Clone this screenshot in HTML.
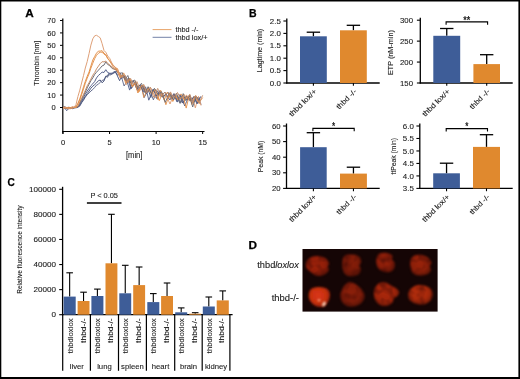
<!DOCTYPE html>
<html><head><meta charset="utf-8"><style>
html,body{margin:0;padding:0;background:#fff;}
svg{display:block;will-change:transform;}
text{font-family:"Liberation Sans",sans-serif;}
</style></head><body>
<svg width="520" height="379" viewBox="0 0 520 379">
<rect x="0" y="0" width="520" height="379" fill="#fff"/>
<text x="25.30" y="16.90" font-size="11" text-anchor="start" fill="#000" font-weight="bold" textLength="8.5" lengthAdjust="spacingAndGlyphs" stroke="#000" stroke-width="0.25">A</text>
<line x1="62.80" y1="18.50" x2="62.80" y2="133.70" stroke="#000" stroke-width="1.2"/>
<line x1="62.20" y1="131.50" x2="204.50" y2="131.50" stroke="#000" stroke-width="1.2"/>
<line x1="60.00" y1="107.50" x2="62.80" y2="107.50" stroke="#000" stroke-width="1.0"/>
<text x="55.70" y="110.10" font-size="7.4" text-anchor="end" fill="#1a1a1a" textLength="4.2" lengthAdjust="spacingAndGlyphs" stroke="#1a1a1a" stroke-width="0.1">0</text>
<line x1="60.00" y1="95.07" x2="62.80" y2="95.07" stroke="#000" stroke-width="1.0"/>
<text x="55.70" y="97.67" font-size="7.4" text-anchor="end" fill="#1a1a1a" textLength="8.4" lengthAdjust="spacingAndGlyphs" stroke="#1a1a1a" stroke-width="0.1">10</text>
<line x1="60.00" y1="82.64" x2="62.80" y2="82.64" stroke="#000" stroke-width="1.0"/>
<text x="55.70" y="85.24" font-size="7.4" text-anchor="end" fill="#1a1a1a" textLength="8.4" lengthAdjust="spacingAndGlyphs" stroke="#1a1a1a" stroke-width="0.1">20</text>
<line x1="60.00" y1="70.21" x2="62.80" y2="70.21" stroke="#000" stroke-width="1.0"/>
<text x="55.70" y="72.81" font-size="7.4" text-anchor="end" fill="#1a1a1a" textLength="8.4" lengthAdjust="spacingAndGlyphs" stroke="#1a1a1a" stroke-width="0.1">30</text>
<line x1="60.00" y1="57.78" x2="62.80" y2="57.78" stroke="#000" stroke-width="1.0"/>
<text x="55.70" y="60.38" font-size="7.4" text-anchor="end" fill="#1a1a1a" textLength="8.4" lengthAdjust="spacingAndGlyphs" stroke="#1a1a1a" stroke-width="0.1">40</text>
<line x1="60.00" y1="45.35" x2="62.80" y2="45.35" stroke="#000" stroke-width="1.0"/>
<text x="55.70" y="47.95" font-size="7.4" text-anchor="end" fill="#1a1a1a" textLength="8.4" lengthAdjust="spacingAndGlyphs" stroke="#1a1a1a" stroke-width="0.1">50</text>
<line x1="60.00" y1="32.92" x2="62.80" y2="32.92" stroke="#000" stroke-width="1.0"/>
<text x="55.70" y="35.52" font-size="7.4" text-anchor="end" fill="#1a1a1a" textLength="8.4" lengthAdjust="spacingAndGlyphs" stroke="#1a1a1a" stroke-width="0.1">60</text>
<line x1="60.00" y1="20.49" x2="62.80" y2="20.49" stroke="#000" stroke-width="1.0"/>
<text x="55.70" y="23.09" font-size="7.4" text-anchor="end" fill="#1a1a1a" textLength="8.4" lengthAdjust="spacingAndGlyphs" stroke="#1a1a1a" stroke-width="0.1">70</text>
<line x1="63.00" y1="131.50" x2="63.00" y2="134.00" stroke="#000" stroke-width="1.0"/>
<text x="63.00" y="145.00" font-size="7.4" text-anchor="middle" fill="#1a1a1a" textLength="4.2" lengthAdjust="spacingAndGlyphs" stroke="#1a1a1a" stroke-width="0.1">0</text>
<line x1="109.55" y1="131.50" x2="109.55" y2="134.00" stroke="#000" stroke-width="1.0"/>
<text x="109.55" y="145.00" font-size="7.4" text-anchor="middle" fill="#1a1a1a" textLength="4.2" lengthAdjust="spacingAndGlyphs" stroke="#1a1a1a" stroke-width="0.1">5</text>
<line x1="156.10" y1="131.50" x2="156.10" y2="134.00" stroke="#000" stroke-width="1.0"/>
<text x="156.10" y="145.00" font-size="7.4" text-anchor="middle" fill="#1a1a1a" textLength="8.5" lengthAdjust="spacingAndGlyphs" stroke="#1a1a1a" stroke-width="0.1">10</text>
<line x1="202.65" y1="131.50" x2="202.65" y2="134.00" stroke="#000" stroke-width="1.0"/>
<text x="202.65" y="145.00" font-size="7.4" text-anchor="middle" fill="#1a1a1a" textLength="8.5" lengthAdjust="spacingAndGlyphs" stroke="#1a1a1a" stroke-width="0.1">15</text>
<text x="134.20" y="157.90" font-size="8.3" text-anchor="middle" fill="#1a1a1a" textLength="16.4" lengthAdjust="spacingAndGlyphs" stroke="#1a1a1a" stroke-width="0.1">[min]</text>
<text x="39.40" y="63.20" font-size="7.9" text-anchor="middle" fill="#1a1a1a" textLength="45" lengthAdjust="spacingAndGlyphs" transform="rotate(-90 39.40 63.20)" stroke="#1a1a1a" stroke-width="0.1">Thrombin [nm]</text>
<polyline points="120.2,72.6 124.1,86.0 128.0,79.6 130.7,88.7 134.7,83.3 138.9,88.6 143.0,85.3 145.8,93.9 149.4,89.1 153.4,99.9 157.0,90.6 160.9,96.5 164.9,92.0 168.2,98.5 170.7,93.6 173.3,99.7 177.1,95.6 180.6,103.2 183.7,96.7 186.9,100.3 189.7,95.0 193.5,102.8 197.8,97.0 201.2,104.6" fill="none" stroke="#5e6789" stroke-width="0.9" stroke-linejoin="miter"/>
<polyline points="120.2,78.4 123.5,75.9 126.1,84.8 128.9,79.4 132.5,86.5 135.8,82.8 139.3,91.5 143.5,85.2 147.5,92.7 151.1,88.3 155.4,97.7 158.8,91.5 162.8,96.7 165.8,94.6 170.0,104.0 173.9,94.0 176.9,99.2 180.9,95.1 183.4,103.6 186.5,94.9 189.8,100.8 192.8,97.9 195.3,107.9 198.5,96.3 201.0,105.5" fill="none" stroke="#dc9a70" stroke-width="0.9" stroke-linejoin="miter"/>
<polyline points="119.6,80.7 122.2,74.8 125.8,81.0 128.4,78.0 131.4,88.5 134.6,83.3 137.5,90.5 141.5,85.3 144.1,97.6 148.3,89.7 150.8,97.6 153.5,89.0 157.1,99.1 159.9,90.6 163.9,96.6 168.0,92.2 171.6,99.1 174.2,94.9 176.8,101.6 179.8,94.6 182.6,103.0 186.4,96.4 190.5,101.1 193.7,97.4 197.0,103.8 199.8,97.4" fill="none" stroke="#48537a" stroke-width="0.9" stroke-linejoin="miter"/>
<polyline points="120.9,77.9 123.7,72.9 127.6,83.2 130.0,79.1 132.5,86.0 135.5,80.8 138.8,91.6 141.2,85.7 143.8,97.4 148.1,87.8 151.4,93.6 154.4,89.7 158.0,99.8 160.7,90.3 164.2,100.2 167.3,92.1 170.4,98.3 174.3,93.8 177.9,100.0 181.0,93.9 184.2,99.7 187.5,96.5 191.2,101.2 194.4,96.2 198.6,103.3 202.7,97.6" fill="none" stroke="#e2914e" stroke-width="0.9" stroke-linejoin="miter"/>
<polyline points="121.3,78.5 125.5,76.0 129.6,90.1 133.1,80.5 137.0,89.2 140.3,84.7 143.1,91.9 145.6,86.8 148.8,100.2 153.0,89.3 156.9,96.1 159.4,91.3 162.0,97.2 166.1,94.0 169.9,100.0 173.9,93.6 177.6,102.1 180.7,95.4 184.7,105.9 188.5,97.4 191.0,100.8 193.8,96.5 197.6,103.4 200.8,96.3" fill="none" stroke="#4e5a86" stroke-width="0.9" stroke-linejoin="miter"/>
<polyline points="119.8,76.8 123.1,75.0 126.2,83.1 129.3,78.1 132.4,87.1 134.9,83.1 137.9,93.0 141.8,85.1 145.0,92.2 147.7,88.2 151.6,93.8 155.6,89.4 159.3,100.6 162.5,93.2 165.9,104.7 169.9,92.8 172.8,101.5 176.4,95.4 179.1,100.1 183.0,95.9 186.2,108.1 189.4,95.0 191.8,104.5 195.8,95.6 200.0,104.1" fill="none" stroke="#e38d45" stroke-width="0.9" stroke-linejoin="miter"/>
<polyline points="119.2,75.3 122.0,72.4 125.2,79.6 127.8,75.5 130.4,82.5 134.6,80.0 137.7,87.4 141.5,83.3 145.1,92.7 148.1,86.7 151.7,93.9 154.4,88.3 158.1,94.4 161.6,91.7 165.2,102.4 169.3,93.3 173.4,99.8 176.5,93.0 179.9,103.3 183.2,93.6 185.7,100.6 189.6,95.6 192.7,107.0 195.8,96.2 199.1,100.9" fill="none" stroke="#66666f" stroke-width="0.9" stroke-linejoin="miter"/>
<polyline points="121.9,77.2 124.9,74.9 127.8,82.5 130.6,78.4 133.8,85.2 137.0,81.7 139.5,88.5 143.8,84.4 146.5,92.7 150.3,87.0 153.6,97.2 157.7,88.4 161.5,96.3 164.9,92.1 167.7,98.2 170.5,91.9 173.3,97.9 177.5,92.5 180.7,98.9 184.2,94.5 186.7,99.1 189.8,94.2 192.8,103.3 195.5,95.6 199.1,103.0 202.7,95.3" fill="none" stroke="#c48a64" stroke-width="0.9" stroke-linejoin="miter"/>
<polyline points="63.0,107.3 64.9,108.7 66.7,107.9 68.6,107.3 70.4,107.5 72.3,108.6 74.2,107.8 76.0,107.2 77.9,107.1 79.8,106.2 81.6,102.8 83.5,100.3 85.3,97.1 87.2,94.7 89.1,92.9 90.9,91.0 92.8,89.5 94.7,87.4 96.5,85.2 98.4,84.2 100.2,82.3 102.1,80.4 104.0,79.9 105.8,76.5 107.7,77.2 108.4,74.9 110.9,74.9 114.5,71.1 117.4,75.1 120.2,72.6" fill="none" stroke="#5e6789" stroke-width="0.95" stroke-linejoin="round"/>
<polyline points="63.0,107.0 64.9,107.3 66.7,108.1 68.6,108.1 70.4,107.8 72.3,107.6 74.2,107.8 76.0,107.8 77.9,107.3 79.8,105.1 81.6,102.4 83.5,99.2 85.3,96.4 87.2,93.6 89.1,91.0 90.9,88.2 92.8,86.2 94.7,84.6 96.5,82.9 98.4,80.7 100.2,80.0 102.1,82.8 104.0,81.0 105.8,76.2 107.7,76.0 108.5,73.7 112.2,74.0 115.4,71.4 119.6,80.7" fill="none" stroke="#48537a" stroke-width="0.95" stroke-linejoin="round"/>
<polyline points="63.0,107.2 64.9,108.1 66.7,110.7 68.6,108.6 70.4,108.3 72.3,108.6 74.2,107.8 76.0,107.2 77.9,106.8 79.8,104.3 81.6,101.1 83.5,97.5 85.3,94.1 87.2,91.1 89.1,88.3 90.9,85.7 92.8,83.8 94.7,81.5 96.5,77.9 98.4,75.5 100.2,73.9 102.1,72.1 104.0,72.5 105.8,69.7 107.7,72.5 109.7,73.3 113.6,73.1 117.8,71.0 121.3,78.5" fill="none" stroke="#4e5a86" stroke-width="0.95" stroke-linejoin="round"/>
<polyline points="63.0,107.3 64.9,106.8 66.7,107.9 68.6,108.4 70.4,108.4 72.3,107.4 74.2,107.4 76.0,107.0 77.9,106.5 79.8,103.1 81.6,99.5 83.5,95.6 85.3,92.0 87.2,87.9 89.1,84.1 90.9,80.7 92.8,77.9 94.7,74.4 96.5,72.2 98.4,70.2 100.2,68.2 102.1,65.9 104.0,65.1 105.8,61.8 107.7,64.5 109.2,65.2 112.3,68.6 116.0,69.3 119.2,75.3" fill="none" stroke="#66666f" stroke-width="0.95" stroke-linejoin="round"/>
<polyline points="63.0,107.0 64.9,107.2 66.7,107.5 68.6,107.4 70.4,107.7 72.3,108.6 74.2,107.4 76.0,107.6 77.9,106.5 79.8,101.8 81.6,98.4 83.5,94.4 85.3,90.4 87.2,85.8 89.1,82.6 90.9,79.1 92.8,75.2 94.7,72.5 96.5,68.9 98.4,66.2 100.2,63.7 102.1,61.7 104.0,61.9 105.8,61.0 107.7,63.4 110.1,65.2 113.9,69.3 117.7,70.5 121.9,77.2" fill="none" stroke="#c48a64" stroke-width="0.95" stroke-linejoin="round"/>
<polyline points="63.0,108.2 64.9,108.1 66.7,108.3 68.6,108.7 70.4,107.7 72.3,108.2 74.2,107.2 76.0,107.5 77.9,103.9 79.8,99.8 81.6,94.8 83.5,89.1 85.3,83.3 87.2,78.2 89.1,73.8 90.9,68.2 92.8,63.2 94.7,58.6 96.5,55.3 98.4,53.3 100.2,52.2 102.1,52.2 104.0,54.2 105.8,55.0 107.7,58.2 109.6,60.6 113.6,67.8 117.5,68.6 120.9,77.9" fill="none" stroke="#e2914e" stroke-width="0.95" stroke-linejoin="round"/>
<polyline points="63.0,107.7 64.9,107.5 66.7,107.6 68.6,107.7 70.4,107.6 72.3,106.9 74.2,107.4 76.0,107.0 77.9,103.2 79.8,98.8 81.6,93.2 83.5,86.8 85.3,81.4 87.2,76.3 89.1,71.9 90.9,65.9 92.8,60.0 94.7,56.4 96.5,53.2 98.4,51.1 100.2,51.1 102.1,50.7 104.0,53.2 105.8,54.8 107.7,58.6 109.4,60.7 113.2,65.1 115.6,67.5 119.8,76.8" fill="none" stroke="#e38d45" stroke-width="0.95" stroke-linejoin="round"/>
<polyline points="63.0,108.0 64.9,107.6 66.7,107.6 68.6,108.7 70.4,108.8 72.3,107.0 74.2,107.3 76.0,104.5 77.9,96.6 79.8,90.1 81.6,83.0 83.5,75.6 85.3,68.0 87.2,61.6 89.1,53.4 90.9,45.1 92.8,38.8 94.7,35.8 96.5,35.3 98.4,36.5 100.2,37.8 102.1,43.6 104.0,50.5 105.8,52.3 107.7,56.0 109.7,58.4 113.0,65.5 117.1,68.8 120.2,78.4" fill="none" stroke="#dc9a70" stroke-width="0.95" stroke-linejoin="round"/>
<line x1="152.60" y1="29.60" x2="171.50" y2="29.60" stroke="#e8a468" stroke-width="1.0"/>
<line x1="152.60" y1="37.30" x2="171.50" y2="37.30" stroke="#7482a8" stroke-width="1.0"/>
<text x="175.40" y="32.20" font-size="7.5" text-anchor="start" fill="#1a1a1a" textLength="23" lengthAdjust="spacingAndGlyphs" stroke="#1a1a1a" stroke-width="0.1">thbd -/-</text>
<text x="175.40" y="39.90" font-size="7.5" text-anchor="start" fill="#1a1a1a" textLength="32.3" lengthAdjust="spacingAndGlyphs" stroke="#1a1a1a" stroke-width="0.1">thbd lox/+</text>
<text x="249.00" y="17.10" font-size="11" text-anchor="start" fill="#000" font-weight="bold" textLength="7.6" lengthAdjust="spacingAndGlyphs" stroke="#000" stroke-width="0.25">B</text>
<line x1="286.80" y1="18.50" x2="286.80" y2="83.60" stroke="#000" stroke-width="1.3"/>
<line x1="286.20" y1="83.00" x2="379.70" y2="83.00" stroke="#000" stroke-width="1.3"/>
<line x1="283.40" y1="83.00" x2="286.80" y2="83.00" stroke="#000" stroke-width="1.1"/>
<text x="280.80" y="85.60" font-size="7.4" text-anchor="end" fill="#1a1a1a" textLength="11.0" lengthAdjust="spacingAndGlyphs" stroke="#1a1a1a" stroke-width="0.1">0.0</text>
<line x1="283.40" y1="70.60" x2="286.80" y2="70.60" stroke="#000" stroke-width="1.1"/>
<text x="280.80" y="73.20" font-size="7.4" text-anchor="end" fill="#1a1a1a" textLength="11.0" lengthAdjust="spacingAndGlyphs" stroke="#1a1a1a" stroke-width="0.1">0.5</text>
<line x1="283.40" y1="58.20" x2="286.80" y2="58.20" stroke="#000" stroke-width="1.1"/>
<text x="280.80" y="60.80" font-size="7.4" text-anchor="end" fill="#1a1a1a" textLength="11.0" lengthAdjust="spacingAndGlyphs" stroke="#1a1a1a" stroke-width="0.1">1.0</text>
<line x1="283.40" y1="45.80" x2="286.80" y2="45.80" stroke="#000" stroke-width="1.1"/>
<text x="280.80" y="48.40" font-size="7.4" text-anchor="end" fill="#1a1a1a" textLength="11.0" lengthAdjust="spacingAndGlyphs" stroke="#1a1a1a" stroke-width="0.1">1.5</text>
<line x1="283.40" y1="33.40" x2="286.80" y2="33.40" stroke="#000" stroke-width="1.1"/>
<text x="280.80" y="36.00" font-size="7.4" text-anchor="end" fill="#1a1a1a" textLength="11.0" lengthAdjust="spacingAndGlyphs" stroke="#1a1a1a" stroke-width="0.1">2.0</text>
<line x1="283.40" y1="21.00" x2="286.80" y2="21.00" stroke="#000" stroke-width="1.1"/>
<text x="280.80" y="23.60" font-size="7.4" text-anchor="end" fill="#1a1a1a" textLength="11.0" lengthAdjust="spacingAndGlyphs" stroke="#1a1a1a" stroke-width="0.1">2.5</text>
<line x1="313.40" y1="32.20" x2="313.40" y2="36.30" stroke="#000" stroke-width="1.3"/>
<line x1="306.70" y1="32.20" x2="320.10" y2="32.20" stroke="#000" stroke-width="1.3"/>
<rect x="300.00" y="36.30" width="26.80" height="46.70" fill="#3e5d98"/>
<line x1="313.40" y1="83.00" x2="313.40" y2="85.80" stroke="#000" stroke-width="1.1"/>
<line x1="353.40" y1="25.30" x2="353.40" y2="30.30" stroke="#000" stroke-width="1.3"/>
<line x1="346.70" y1="25.30" x2="360.10" y2="25.30" stroke="#000" stroke-width="1.3"/>
<rect x="340.00" y="30.30" width="26.80" height="52.70" fill="#e0892e"/>
<line x1="353.40" y1="83.00" x2="353.40" y2="85.80" stroke="#000" stroke-width="1.1"/>
<text x="262.40" y="50.50" font-size="7.7" text-anchor="middle" fill="#1a1a1a" textLength="43.5" lengthAdjust="spacingAndGlyphs" transform="rotate(-90 262.40 50.50)" stroke="#1a1a1a" stroke-width="0.1">Lagtime (min)</text>
<text x="317.00" y="92.00" font-size="7.3" text-anchor="end" fill="#1a1a1a" textLength="35.5" lengthAdjust="spacingAndGlyphs" transform="rotate(-45 317.00 92.00)" stroke="#1a1a1a" stroke-width="0.1">thbd lox/+</text>
<text x="357.00" y="92.00" font-size="7.3" text-anchor="end" fill="#1a1a1a" textLength="25" lengthAdjust="spacingAndGlyphs" transform="rotate(-45 357.00 92.00)" stroke="#1a1a1a" stroke-width="0.1">thbd -/-</text>
<line x1="420.30" y1="17.70" x2="420.30" y2="83.60" stroke="#000" stroke-width="1.3"/>
<line x1="419.70" y1="83.00" x2="512.70" y2="83.00" stroke="#000" stroke-width="1.3"/>
<line x1="416.90" y1="83.00" x2="420.30" y2="83.00" stroke="#000" stroke-width="1.1"/>
<text x="413.00" y="85.60" font-size="7.4" text-anchor="end" fill="#1a1a1a" textLength="13.0" lengthAdjust="spacingAndGlyphs" stroke="#1a1a1a" stroke-width="0.1">150</text>
<line x1="416.90" y1="62.07" x2="420.30" y2="62.07" stroke="#000" stroke-width="1.1"/>
<text x="413.00" y="64.67" font-size="7.4" text-anchor="end" fill="#1a1a1a" textLength="13.0" lengthAdjust="spacingAndGlyphs" stroke="#1a1a1a" stroke-width="0.1">200</text>
<line x1="416.90" y1="41.13" x2="420.30" y2="41.13" stroke="#000" stroke-width="1.1"/>
<text x="413.00" y="43.73" font-size="7.4" text-anchor="end" fill="#1a1a1a" textLength="13.0" lengthAdjust="spacingAndGlyphs" stroke="#1a1a1a" stroke-width="0.1">250</text>
<line x1="416.90" y1="20.20" x2="420.30" y2="20.20" stroke="#000" stroke-width="1.1"/>
<text x="413.00" y="22.80" font-size="7.4" text-anchor="end" fill="#1a1a1a" textLength="13.0" lengthAdjust="spacingAndGlyphs" stroke="#1a1a1a" stroke-width="0.1">300</text>
<line x1="446.75" y1="28.50" x2="446.75" y2="35.80" stroke="#000" stroke-width="1.3"/>
<line x1="440.05" y1="28.50" x2="453.45" y2="28.50" stroke="#000" stroke-width="1.3"/>
<rect x="433.30" y="35.80" width="26.90" height="47.20" fill="#3e5d98"/>
<line x1="446.75" y1="83.00" x2="446.75" y2="85.80" stroke="#000" stroke-width="1.1"/>
<line x1="486.70" y1="54.70" x2="486.70" y2="64.10" stroke="#000" stroke-width="1.3"/>
<line x1="480.00" y1="54.70" x2="493.40" y2="54.70" stroke="#000" stroke-width="1.3"/>
<rect x="473.40" y="64.10" width="26.60" height="18.90" fill="#e0892e"/>
<line x1="486.70" y1="83.00" x2="486.70" y2="85.80" stroke="#000" stroke-width="1.1"/>
<text x="392.60" y="52.60" font-size="7.7" text-anchor="middle" fill="#1a1a1a" textLength="45" lengthAdjust="spacingAndGlyphs" transform="rotate(-90 392.60 52.60)" stroke="#1a1a1a" stroke-width="0.1">ETP (nM-min)</text>
<text x="450.35" y="92.00" font-size="7.3" text-anchor="end" fill="#1a1a1a" textLength="35.5" lengthAdjust="spacingAndGlyphs" transform="rotate(-45 450.35 92.00)" stroke="#1a1a1a" stroke-width="0.1">thbd lox/+</text>
<text x="490.30" y="92.00" font-size="7.3" text-anchor="end" fill="#1a1a1a" textLength="25" lengthAdjust="spacingAndGlyphs" transform="rotate(-45 490.30 92.00)" stroke="#1a1a1a" stroke-width="0.1">thbd -/-</text>
<polyline points="446.10,24.70 446.10,21.90 487.60,21.90 487.60,24.70" fill="none" stroke="#000" stroke-width="1.1"/>
<text x="466.85" y="23.60" font-size="10" text-anchor="middle" fill="#1a1a1a" font-weight="bold" textLength="7.0" lengthAdjust="spacingAndGlyphs">**</text>
<line x1="286.50" y1="123.50" x2="286.50" y2="189.00" stroke="#000" stroke-width="1.3"/>
<line x1="285.90" y1="188.40" x2="379.70" y2="188.40" stroke="#000" stroke-width="1.3"/>
<line x1="283.10" y1="188.40" x2="286.50" y2="188.40" stroke="#000" stroke-width="1.1"/>
<text x="280.50" y="191.00" font-size="7.4" text-anchor="end" fill="#1a1a1a" textLength="8.6" lengthAdjust="spacingAndGlyphs" stroke="#1a1a1a" stroke-width="0.1">20</text>
<line x1="283.10" y1="172.80" x2="286.50" y2="172.80" stroke="#000" stroke-width="1.1"/>
<text x="280.50" y="175.40" font-size="7.4" text-anchor="end" fill="#1a1a1a" textLength="8.6" lengthAdjust="spacingAndGlyphs" stroke="#1a1a1a" stroke-width="0.1">30</text>
<line x1="283.10" y1="157.20" x2="286.50" y2="157.20" stroke="#000" stroke-width="1.1"/>
<text x="280.50" y="159.80" font-size="7.4" text-anchor="end" fill="#1a1a1a" textLength="8.6" lengthAdjust="spacingAndGlyphs" stroke="#1a1a1a" stroke-width="0.1">40</text>
<line x1="283.10" y1="141.60" x2="286.50" y2="141.60" stroke="#000" stroke-width="1.1"/>
<text x="280.50" y="144.20" font-size="7.4" text-anchor="end" fill="#1a1a1a" textLength="8.6" lengthAdjust="spacingAndGlyphs" stroke="#1a1a1a" stroke-width="0.1">50</text>
<line x1="283.10" y1="126.00" x2="286.50" y2="126.00" stroke="#000" stroke-width="1.1"/>
<text x="280.50" y="128.60" font-size="7.4" text-anchor="end" fill="#1a1a1a" textLength="8.6" lengthAdjust="spacingAndGlyphs" stroke="#1a1a1a" stroke-width="0.1">60</text>
<line x1="313.40" y1="132.70" x2="313.40" y2="147.20" stroke="#000" stroke-width="1.3"/>
<line x1="306.70" y1="132.70" x2="320.10" y2="132.70" stroke="#000" stroke-width="1.3"/>
<rect x="300.10" y="147.20" width="26.60" height="41.20" fill="#3e5d98"/>
<line x1="313.40" y1="188.40" x2="313.40" y2="191.20" stroke="#000" stroke-width="1.1"/>
<line x1="353.45" y1="167.20" x2="353.45" y2="173.60" stroke="#000" stroke-width="1.3"/>
<line x1="346.75" y1="167.20" x2="360.15" y2="167.20" stroke="#000" stroke-width="1.3"/>
<rect x="340.00" y="173.60" width="26.90" height="14.80" fill="#e0892e"/>
<line x1="353.45" y1="188.40" x2="353.45" y2="191.20" stroke="#000" stroke-width="1.1"/>
<text x="263.40" y="156.50" font-size="7.7" text-anchor="middle" fill="#1a1a1a" textLength="31.3" lengthAdjust="spacingAndGlyphs" transform="rotate(-90 263.40 156.50)" stroke="#1a1a1a" stroke-width="0.1">Peak (nM)</text>
<text x="317.00" y="197.40" font-size="7.3" text-anchor="end" fill="#1a1a1a" textLength="35.5" lengthAdjust="spacingAndGlyphs" transform="rotate(-45 317.00 197.40)" stroke="#1a1a1a" stroke-width="0.1">thbd lox/+</text>
<text x="357.05" y="197.40" font-size="7.3" text-anchor="end" fill="#1a1a1a" textLength="25" lengthAdjust="spacingAndGlyphs" transform="rotate(-45 357.05 197.40)" stroke="#1a1a1a" stroke-width="0.1">thbd -/-</text>
<polyline points="312.90,131.20 312.90,128.40 354.20,128.40 354.20,131.20" fill="none" stroke="#000" stroke-width="1.1"/>
<text x="333.55" y="130.10" font-size="10" text-anchor="middle" fill="#1a1a1a" font-weight="bold" textLength="3.2" lengthAdjust="spacingAndGlyphs">*</text>
<line x1="419.80" y1="123.50" x2="419.80" y2="189.00" stroke="#000" stroke-width="1.3"/>
<line x1="419.20" y1="188.40" x2="512.70" y2="188.40" stroke="#000" stroke-width="1.3"/>
<line x1="416.40" y1="188.40" x2="419.80" y2="188.40" stroke="#000" stroke-width="1.1"/>
<text x="413.80" y="191.00" font-size="7.4" text-anchor="end" fill="#1a1a1a" textLength="11.0" lengthAdjust="spacingAndGlyphs" stroke="#1a1a1a" stroke-width="0.1">3.5</text>
<line x1="416.40" y1="175.92" x2="419.80" y2="175.92" stroke="#000" stroke-width="1.1"/>
<text x="413.80" y="178.52" font-size="7.4" text-anchor="end" fill="#1a1a1a" textLength="11.0" lengthAdjust="spacingAndGlyphs" stroke="#1a1a1a" stroke-width="0.1">4.0</text>
<line x1="416.40" y1="163.44" x2="419.80" y2="163.44" stroke="#000" stroke-width="1.1"/>
<text x="413.80" y="166.04" font-size="7.4" text-anchor="end" fill="#1a1a1a" textLength="11.0" lengthAdjust="spacingAndGlyphs" stroke="#1a1a1a" stroke-width="0.1">4.5</text>
<line x1="416.40" y1="150.96" x2="419.80" y2="150.96" stroke="#000" stroke-width="1.1"/>
<text x="413.80" y="153.56" font-size="7.4" text-anchor="end" fill="#1a1a1a" textLength="11.0" lengthAdjust="spacingAndGlyphs" stroke="#1a1a1a" stroke-width="0.1">5.0</text>
<line x1="416.40" y1="138.48" x2="419.80" y2="138.48" stroke="#000" stroke-width="1.1"/>
<text x="413.80" y="141.08" font-size="7.4" text-anchor="end" fill="#1a1a1a" textLength="11.0" lengthAdjust="spacingAndGlyphs" stroke="#1a1a1a" stroke-width="0.1">5.5</text>
<line x1="416.40" y1="126.00" x2="419.80" y2="126.00" stroke="#000" stroke-width="1.1"/>
<text x="413.80" y="128.60" font-size="7.4" text-anchor="end" fill="#1a1a1a" textLength="11.0" lengthAdjust="spacingAndGlyphs" stroke="#1a1a1a" stroke-width="0.1">6.0</text>
<line x1="446.55" y1="163.20" x2="446.55" y2="173.30" stroke="#000" stroke-width="1.3"/>
<line x1="439.85" y1="163.20" x2="453.25" y2="163.20" stroke="#000" stroke-width="1.3"/>
<rect x="433.20" y="173.30" width="26.70" height="15.10" fill="#3e5d98"/>
<line x1="446.55" y1="188.40" x2="446.55" y2="191.20" stroke="#000" stroke-width="1.1"/>
<line x1="486.50" y1="134.70" x2="486.50" y2="146.90" stroke="#000" stroke-width="1.3"/>
<line x1="479.80" y1="134.70" x2="493.20" y2="134.70" stroke="#000" stroke-width="1.3"/>
<rect x="473.00" y="146.90" width="27.00" height="41.50" fill="#e0892e"/>
<line x1="486.50" y1="188.40" x2="486.50" y2="191.20" stroke="#000" stroke-width="1.1"/>
<text x="395.90" y="156.20" font-size="7.7" text-anchor="middle" fill="#1a1a1a" textLength="36.4" lengthAdjust="spacingAndGlyphs" transform="rotate(-90 395.90 156.20)" stroke="#1a1a1a" stroke-width="0.1">ttPeak (min)</text>
<text x="450.15" y="197.40" font-size="7.3" text-anchor="end" fill="#1a1a1a" textLength="35.5" lengthAdjust="spacingAndGlyphs" transform="rotate(-45 450.15 197.40)" stroke="#1a1a1a" stroke-width="0.1">thbd lox/+</text>
<text x="490.10" y="197.40" font-size="7.3" text-anchor="end" fill="#1a1a1a" textLength="25" lengthAdjust="spacingAndGlyphs" transform="rotate(-45 490.10 197.40)" stroke="#1a1a1a" stroke-width="0.1">thbd -/-</text>
<polyline points="446.20,131.40 446.20,128.60 487.50,128.60 487.50,131.40" fill="none" stroke="#000" stroke-width="1.1"/>
<text x="466.85" y="130.30" font-size="10" text-anchor="middle" fill="#1a1a1a" font-weight="bold" textLength="3.2" lengthAdjust="spacingAndGlyphs">*</text>
<text x="7.60" y="186.40" font-size="11.2" text-anchor="start" fill="#000" font-weight="bold" textLength="7.3" lengthAdjust="spacingAndGlyphs" stroke="#000" stroke-width="0.25">C</text>
<line x1="62.60" y1="186.80" x2="62.60" y2="315.30" stroke="#000" stroke-width="1.3"/>
<line x1="62.00" y1="314.70" x2="232.60" y2="314.70" stroke="#000" stroke-width="1.3"/>
<line x1="59.20" y1="314.70" x2="62.60" y2="314.70" stroke="#000" stroke-width="1.1"/>
<text x="55.90" y="317.20" font-size="7.2" text-anchor="end" fill="#1a1a1a" textLength="4.5" lengthAdjust="spacingAndGlyphs" stroke="#1a1a1a" stroke-width="0.1">0</text>
<line x1="59.20" y1="289.62" x2="62.60" y2="289.62" stroke="#000" stroke-width="1.1"/>
<text x="55.90" y="292.12" font-size="7.2" text-anchor="end" fill="#1a1a1a" textLength="22.5" lengthAdjust="spacingAndGlyphs" stroke="#1a1a1a" stroke-width="0.1">20000</text>
<line x1="59.20" y1="264.54" x2="62.60" y2="264.54" stroke="#000" stroke-width="1.1"/>
<text x="55.90" y="267.04" font-size="7.2" text-anchor="end" fill="#1a1a1a" textLength="22.5" lengthAdjust="spacingAndGlyphs" stroke="#1a1a1a" stroke-width="0.1">40000</text>
<line x1="59.20" y1="239.46" x2="62.60" y2="239.46" stroke="#000" stroke-width="1.1"/>
<text x="55.90" y="241.96" font-size="7.2" text-anchor="end" fill="#1a1a1a" textLength="22.5" lengthAdjust="spacingAndGlyphs" stroke="#1a1a1a" stroke-width="0.1">60000</text>
<line x1="59.20" y1="214.38" x2="62.60" y2="214.38" stroke="#000" stroke-width="1.1"/>
<text x="55.90" y="216.88" font-size="7.2" text-anchor="end" fill="#1a1a1a" textLength="22.5" lengthAdjust="spacingAndGlyphs" stroke="#1a1a1a" stroke-width="0.1">80000</text>
<line x1="59.20" y1="189.30" x2="62.60" y2="189.30" stroke="#000" stroke-width="1.1"/>
<text x="55.90" y="191.80" font-size="7.2" text-anchor="end" fill="#1a1a1a" textLength="27.0" lengthAdjust="spacingAndGlyphs" stroke="#1a1a1a" stroke-width="0.1">100000</text>
<text x="22.40" y="249.60" font-size="8" text-anchor="middle" fill="#1a1a1a" textLength="88.5" lengthAdjust="spacingAndGlyphs" transform="rotate(-90 22.40 249.60)" stroke="#1a1a1a" stroke-width="0.1">Relative fluorescence intensity</text>
<line x1="69.65" y1="272.80" x2="69.65" y2="296.60" stroke="#000" stroke-width="1.1"/>
<line x1="66.35" y1="272.80" x2="72.95" y2="272.80" stroke="#000" stroke-width="1.1"/>
<rect x="63.60" y="296.60" width="12.10" height="18.10" fill="#3e5d98"/>
<line x1="83.55" y1="292.20" x2="83.55" y2="301.00" stroke="#000" stroke-width="1.1"/>
<line x1="80.25" y1="292.20" x2="86.85" y2="292.20" stroke="#000" stroke-width="1.1"/>
<rect x="77.60" y="301.00" width="11.90" height="13.70" fill="#e0892e"/>
<line x1="97.40" y1="289.10" x2="97.40" y2="296.00" stroke="#000" stroke-width="1.1"/>
<line x1="94.10" y1="289.10" x2="100.70" y2="289.10" stroke="#000" stroke-width="1.1"/>
<rect x="91.40" y="296.00" width="12.00" height="18.70" fill="#3e5d98"/>
<line x1="111.45" y1="214.30" x2="111.45" y2="263.30" stroke="#000" stroke-width="1.1"/>
<line x1="108.15" y1="214.30" x2="114.75" y2="214.30" stroke="#000" stroke-width="1.1"/>
<rect x="105.50" y="263.30" width="11.90" height="51.40" fill="#e0892e"/>
<line x1="125.25" y1="265.30" x2="125.25" y2="293.30" stroke="#000" stroke-width="1.1"/>
<line x1="121.95" y1="265.30" x2="128.55" y2="265.30" stroke="#000" stroke-width="1.1"/>
<rect x="119.30" y="293.30" width="11.90" height="21.40" fill="#3e5d98"/>
<line x1="139.15" y1="267.00" x2="139.15" y2="285.10" stroke="#000" stroke-width="1.1"/>
<line x1="135.85" y1="267.00" x2="142.45" y2="267.00" stroke="#000" stroke-width="1.1"/>
<rect x="133.20" y="285.10" width="11.90" height="29.60" fill="#e0892e"/>
<line x1="153.30" y1="293.60" x2="153.30" y2="302.10" stroke="#000" stroke-width="1.1"/>
<line x1="150.00" y1="293.60" x2="156.60" y2="293.60" stroke="#000" stroke-width="1.1"/>
<rect x="147.30" y="302.10" width="12.00" height="12.60" fill="#3e5d98"/>
<line x1="167.05" y1="283.00" x2="167.05" y2="296.00" stroke="#000" stroke-width="1.1"/>
<line x1="163.75" y1="283.00" x2="170.35" y2="283.00" stroke="#000" stroke-width="1.1"/>
<rect x="161.10" y="296.00" width="11.90" height="18.70" fill="#e0892e"/>
<line x1="181.20" y1="307.90" x2="181.20" y2="312.30" stroke="#000" stroke-width="1.1"/>
<line x1="177.90" y1="307.90" x2="184.50" y2="307.90" stroke="#000" stroke-width="1.1"/>
<rect x="175.20" y="312.30" width="12.00" height="2.40" fill="#3e5d98"/>
<line x1="195.20" y1="312.70" x2="195.20" y2="313.70" stroke="#000" stroke-width="1.1"/>
<line x1="191.90" y1="312.70" x2="198.50" y2="312.70" stroke="#000" stroke-width="1.1"/>
<rect x="189.20" y="313.70" width="12.00" height="1.00" fill="#e0892e"/>
<line x1="208.80" y1="297.00" x2="208.80" y2="306.50" stroke="#000" stroke-width="1.1"/>
<line x1="205.50" y1="297.00" x2="212.10" y2="297.00" stroke="#000" stroke-width="1.1"/>
<rect x="202.80" y="306.50" width="12.00" height="8.20" fill="#3e5d98"/>
<line x1="222.75" y1="290.90" x2="222.75" y2="300.40" stroke="#000" stroke-width="1.1"/>
<line x1="219.45" y1="290.90" x2="226.05" y2="290.90" stroke="#000" stroke-width="1.1"/>
<rect x="216.70" y="300.40" width="12.10" height="14.30" fill="#e0892e"/>
<line x1="86.90" y1="203.00" x2="121.50" y2="203.00" stroke="#000" stroke-width="1.4"/>
<text x="104.20" y="198.10" font-size="7.6" text-anchor="middle" fill="#1a1a1a" textLength="27.6" lengthAdjust="spacingAndGlyphs" stroke="#1a1a1a" stroke-width="0.1">P &lt; 0.05</text>
<line x1="62.70" y1="314.70" x2="62.70" y2="370.80" stroke="#000" stroke-width="1.2"/>
<line x1="90.40" y1="314.70" x2="90.40" y2="370.80" stroke="#000" stroke-width="1.2"/>
<line x1="118.50" y1="314.70" x2="118.50" y2="370.80" stroke="#000" stroke-width="1.2"/>
<line x1="146.40" y1="314.70" x2="146.40" y2="370.80" stroke="#000" stroke-width="1.2"/>
<line x1="174.70" y1="314.70" x2="174.70" y2="370.80" stroke="#000" stroke-width="1.2"/>
<line x1="202.20" y1="314.70" x2="202.20" y2="370.80" stroke="#000" stroke-width="1.2"/>
<line x1="229.90" y1="314.70" x2="229.90" y2="370.80" stroke="#000" stroke-width="1.2"/>
<text x="76.85" y="369.30" font-size="8" text-anchor="middle" fill="#1a1a1a" textLength="14.12" lengthAdjust="spacingAndGlyphs" stroke="#1a1a1a" stroke-width="0.1">liver</text>
<text x="72.80" y="318.40" font-size="7.3" text-anchor="end" fill="#1a1a1a" textLength="34.8" lengthAdjust="spacingAndGlyphs" transform="rotate(-90 72.80 318.40)" stroke="#1a1a1a" stroke-width="0.1">thbdloxlox</text>
<text x="85.60" y="318.40" font-size="7.3" text-anchor="end" fill="#1a1a1a" textLength="24.5" lengthAdjust="spacingAndGlyphs" transform="rotate(-90 85.60 318.40)" stroke="#1a1a1a" stroke-width="0.1">thbd-/-</text>
<text x="104.45" y="369.30" font-size="8" text-anchor="middle" fill="#1a1a1a" textLength="14.56" lengthAdjust="spacingAndGlyphs" stroke="#1a1a1a" stroke-width="0.1">lung</text>
<text x="99.90" y="318.40" font-size="7.3" text-anchor="end" fill="#1a1a1a" textLength="34.8" lengthAdjust="spacingAndGlyphs" transform="rotate(-90 99.90 318.40)" stroke="#1a1a1a" stroke-width="0.1">thbdloxlox</text>
<text x="112.70" y="318.40" font-size="7.3" text-anchor="end" fill="#1a1a1a" textLength="24.5" lengthAdjust="spacingAndGlyphs" transform="rotate(-90 112.70 318.40)" stroke="#1a1a1a" stroke-width="0.1">thbd-/-</text>
<text x="132.45" y="369.30" font-size="8" text-anchor="middle" fill="#1a1a1a" textLength="22.69" lengthAdjust="spacingAndGlyphs" stroke="#1a1a1a" stroke-width="0.1">spleen</text>
<text x="128.00" y="318.40" font-size="7.3" text-anchor="end" fill="#1a1a1a" textLength="34.8" lengthAdjust="spacingAndGlyphs" transform="rotate(-90 128.00 318.40)" stroke="#1a1a1a" stroke-width="0.1">thbdloxlox</text>
<text x="140.80" y="318.40" font-size="7.3" text-anchor="end" fill="#1a1a1a" textLength="24.5" lengthAdjust="spacingAndGlyphs" transform="rotate(-90 140.80 318.40)" stroke="#1a1a1a" stroke-width="0.1">thbd-/-</text>
<text x="160.55" y="369.30" font-size="8" text-anchor="middle" fill="#1a1a1a" textLength="17.55" lengthAdjust="spacingAndGlyphs" stroke="#1a1a1a" stroke-width="0.1">heart</text>
<text x="155.90" y="318.40" font-size="7.3" text-anchor="end" fill="#1a1a1a" textLength="34.8" lengthAdjust="spacingAndGlyphs" transform="rotate(-90 155.90 318.40)" stroke="#1a1a1a" stroke-width="0.1">thbdloxlox</text>
<text x="168.70" y="318.40" font-size="7.3" text-anchor="end" fill="#1a1a1a" textLength="24.5" lengthAdjust="spacingAndGlyphs" transform="rotate(-90 168.70 318.40)" stroke="#1a1a1a" stroke-width="0.1">thbd-/-</text>
<text x="188.45" y="369.30" font-size="8" text-anchor="middle" fill="#1a1a1a" textLength="17.12" lengthAdjust="spacingAndGlyphs" stroke="#1a1a1a" stroke-width="0.1">brain</text>
<text x="184.20" y="318.40" font-size="7.3" text-anchor="end" fill="#1a1a1a" textLength="34.8" lengthAdjust="spacingAndGlyphs" transform="rotate(-90 184.20 318.40)" stroke="#1a1a1a" stroke-width="0.1">thbdloxlox</text>
<text x="197.00" y="318.40" font-size="7.3" text-anchor="end" fill="#1a1a1a" textLength="24.5" lengthAdjust="spacingAndGlyphs" transform="rotate(-90 197.00 318.40)" stroke="#1a1a1a" stroke-width="0.1">thbd-/-</text>
<text x="216.05" y="369.30" font-size="8" text-anchor="middle" fill="#1a1a1a" textLength="22.26" lengthAdjust="spacingAndGlyphs" stroke="#1a1a1a" stroke-width="0.1">kidney</text>
<text x="211.70" y="318.40" font-size="7.3" text-anchor="end" fill="#1a1a1a" textLength="34.8" lengthAdjust="spacingAndGlyphs" transform="rotate(-90 211.70 318.40)" stroke="#1a1a1a" stroke-width="0.1">thbdloxlox</text>
<text x="224.50" y="318.40" font-size="7.3" text-anchor="end" fill="#1a1a1a" textLength="24.5" lengthAdjust="spacingAndGlyphs" transform="rotate(-90 224.50 318.40)" stroke="#1a1a1a" stroke-width="0.1">thbd-/-</text>
<text x="248.60" y="248.90" font-size="11" text-anchor="start" fill="#000" font-weight="bold" textLength="8.5" lengthAdjust="spacingAndGlyphs" stroke="#000" stroke-width="0.25">D</text>
<rect x="302.50" y="249.00" width="135.10" height="62.60" fill="#150505"/>
<defs><filter id="bl" x="-20%" y="-20%" width="140%" height="140%"><feGaussianBlur stdDeviation="1.2"/></filter><filter id="blt" x="-20%" y="-20%" width="140%" height="140%" color-interpolation-filters="sRGB"><feGaussianBlur in="SourceGraphic" stdDeviation="1.1" result="b"/><feTurbulence type="fractalNoise" baseFrequency="0.16" numOctaves="2" seed="4" result="n0"/><feGaussianBlur in="n0" stdDeviation="0.8" result="n"/><feColorMatrix in="n" type="matrix" values="0 0 0 0 0.30 0 0 0 0 0.05 0 0 0 0 0.02 0 0 0 1.8 -0.75" result="d"/><feComposite in="d" in2="b" operator="atop"/></filter><radialGradient id="g0" cx="45%" cy="42%" r="62%"><stop offset="0" stop-color="rgb(158,34,10)"/><stop offset="0.6" stop-color="rgb(145,30,9)"/><stop offset="1" stop-color="rgb(97, 20, 6)"/></radialGradient><radialGradient id="g1" cx="45%" cy="42%" r="62%"><stop offset="0" stop-color="rgb(136,30,9)"/><stop offset="0.6" stop-color="rgb(125,27,8)"/><stop offset="1" stop-color="rgb(84, 18, 5)"/></radialGradient><radialGradient id="g2" cx="45%" cy="42%" r="62%"><stop offset="0" stop-color="rgb(150,33,10)"/><stop offset="0.6" stop-color="rgb(138,29,9)"/><stop offset="1" stop-color="rgb(93, 19, 6)"/></radialGradient><radialGradient id="g3" cx="45%" cy="42%" r="62%"><stop offset="0" stop-color="rgb(153,35,10)"/><stop offset="0.6" stop-color="rgb(140,31,9)"/><stop offset="1" stop-color="rgb(94, 21, 6)"/></radialGradient><radialGradient id="g4" cx="45%" cy="42%" r="62%"><stop offset="0" stop-color="rgb(218,54,19)"/><stop offset="0.6" stop-color="rgb(200,48,17)"/><stop offset="1" stop-color="rgb(135, 32, 11)"/></radialGradient><radialGradient id="g5" cx="45%" cy="42%" r="62%"><stop offset="0" stop-color="rgb(140,32,10)"/><stop offset="0.6" stop-color="rgb(128,28,9)"/><stop offset="1" stop-color="rgb(86, 19, 6)"/></radialGradient><radialGradient id="g6" cx="45%" cy="42%" r="62%"><stop offset="0" stop-color="rgb(172,40,12)"/><stop offset="0.6" stop-color="rgb(158,36,10)"/><stop offset="1" stop-color="rgb(106, 24, 7)"/></radialGradient><radialGradient id="g7" cx="45%" cy="42%" r="62%"><stop offset="0" stop-color="rgb(182,46,13)"/><stop offset="0.6" stop-color="rgb(167,41,11)"/><stop offset="1" stop-color="rgb(112, 27, 7)"/></radialGradient></defs>
<polygon points="306.5,262.0 306.8,261.4 307.1,260.7 307.5,260.1 308.0,259.5 308.5,259.0 309.0,258.5 309.6,258.1 310.2,257.7 310.8,257.3 311.5,257.0 312.3,256.7 313.0,256.5 313.8,256.3 314.6,256.2 315.4,256.1 316.3,256.0 317.2,256.0 318.0,256.0 318.8,256.1 319.7,256.2 320.6,256.3 321.4,256.5 322.2,256.7 323.0,257.0 323.7,257.3 324.5,257.7 325.2,258.1 325.8,258.5 326.4,259.0 327.0,259.5 327.5,260.1 328.0,260.8 328.4,261.5 328.8,262.2 329.1,262.9 329.2,263.5 329.2,264.1 329.0,264.6 328.7,265.0 328.4,265.5 328.1,266.0 328.0,266.5 328.1,267.1 328.3,267.6 328.5,268.2 328.7,268.8 328.9,269.4 328.8,270.0 328.6,270.6 328.2,271.2 327.8,271.8 327.2,272.4 326.6,273.0 326.0,273.5 325.3,274.0 324.5,274.5 323.6,274.9 322.7,275.3 321.9,275.6 321.0,275.8 320.2,275.9 319.3,276.0 318.4,276.0 317.6,275.9 316.8,275.7 316.0,275.5 315.3,275.2 314.6,274.9 314.0,274.4 313.3,274.0 312.7,273.5 312.0,273.0 311.2,272.5 310.4,271.9 309.6,271.3 308.8,270.7 308.1,270.1 307.5,269.5 307.0,268.9 306.6,268.4 306.3,267.8 306.1,267.2 305.9,266.6 305.8,266.0 305.8,265.4 305.8,264.7 305.9,264.0 306.0,263.3 306.3,262.6" fill="url(#g0)" filter="url(#blt)"/>
<polygon points="343.0,258.0 343.3,257.4 343.8,256.8 344.2,256.2 344.8,255.7 345.4,255.3 346.0,255.0 346.7,254.8 347.5,254.6 348.4,254.5 349.3,254.5 350.1,254.5 351.0,254.5 351.8,254.5 352.7,254.5 353.6,254.6 354.4,254.6 355.2,254.8 356.0,255.0 356.8,255.3 357.5,255.6 358.2,256.0 358.9,256.4 359.5,256.9 360.0,257.5 360.4,258.1 360.7,258.9 361.0,259.7 361.2,260.5 361.3,261.3 361.3,262.0 361.1,262.6 360.8,263.2 360.4,263.8 360.0,264.3 359.6,264.9 359.5,265.5 359.6,266.1 359.9,266.8 360.3,267.4 360.6,268.1 360.9,268.8 361.0,269.5 360.9,270.2 360.7,271.1 360.4,271.9 360.0,272.7 359.5,273.4 359.0,274.0 358.4,274.5 357.6,274.9 356.8,275.3 355.9,275.6 354.9,275.8 354.0,276.0 353.0,276.2 352.0,276.3 350.9,276.3 349.9,276.3 348.9,276.2 348.0,276.0 347.2,275.7 346.4,275.3 345.7,274.8 345.1,274.3 344.5,273.7 344.0,273.0 343.6,272.3 343.3,271.5 343.0,270.6 342.8,269.7 342.6,268.9 342.5,268.0 342.4,267.2 342.3,266.3 342.3,265.5 342.3,264.7 342.3,263.8 342.3,263.0 342.3,262.1 342.4,261.3 342.5,260.4 342.6,259.5 342.7,258.7" fill="url(#g1)" filter="url(#blt)"/>
<polygon points="376.5,258.0 376.8,257.2 377.1,256.5 377.5,255.8 377.9,255.1 378.4,254.5 379.0,254.0 379.7,253.6 380.5,253.3 381.3,253.1 382.2,252.9 383.1,252.8 384.0,252.7 384.9,252.7 385.7,252.7 386.6,252.9 387.4,253.0 388.3,253.2 389.0,253.5 389.7,253.8 390.4,254.2 391.1,254.6 391.7,255.0 392.2,255.5 392.5,256.0 392.6,256.5 392.5,257.1 392.3,257.7 392.1,258.3 392.0,258.9 392.0,259.5 392.3,260.0 392.7,260.5 393.2,260.9 393.7,261.4 394.2,261.9 394.5,262.5 394.7,263.2 394.9,263.9 395.0,264.7 395.0,265.5 395.0,266.3 394.8,267.0 394.5,267.7 394.2,268.5 393.7,269.2 393.2,269.9 392.6,270.5 392.0,271.0 391.3,271.4 390.5,271.7 389.6,272.0 388.7,272.2 387.9,272.3 387.0,272.3 386.2,272.3 385.3,272.1 384.4,271.9 383.6,271.7 382.8,271.3 382.0,271.0 381.2,270.6 380.5,270.2 379.8,269.7 379.1,269.2 378.5,268.6 378.0,268.0 377.5,267.3 377.2,266.5 376.8,265.6 376.6,264.7 376.4,263.9 376.2,263.0 376.1,262.2 376.1,261.3 376.1,260.4 376.2,259.6 376.3,258.8" fill="url(#g2)" filter="url(#blt)"/>
<polygon points="410.5,260.0 410.8,259.2 411.2,258.4 411.7,257.7 412.3,257.1 412.9,256.5 413.5,256.0 414.1,255.6 414.8,255.3 415.6,255.1 416.3,254.9 417.1,254.8 418.0,254.7 418.9,254.7 419.9,254.7 421.0,254.8 422.0,255.0 423.0,255.2 424.0,255.5 424.9,255.9 425.8,256.3 426.7,256.8 427.6,257.3 428.3,257.9 429.0,258.5 429.6,259.2 430.1,259.9 430.6,260.8 431.0,261.6 431.3,262.3 431.4,263.0 431.3,263.6 431.1,264.1 430.7,264.5 430.3,265.0 430.0,265.5 429.8,266.0 429.9,266.6 430.1,267.3 430.5,267.9 430.8,268.6 431.0,269.3 431.0,270.0 430.8,270.7 430.4,271.4 429.9,272.2 429.4,272.8 428.7,273.5 428.0,274.0 427.2,274.4 426.2,274.8 425.2,275.1 424.1,275.3 423.0,275.5 422.0,275.6 421.0,275.7 419.9,275.7 418.9,275.6 417.9,275.5 416.9,275.3 416.0,275.0 415.2,274.7 414.4,274.3 413.7,273.8 413.1,273.3 412.5,272.7 412.0,272.0 411.5,271.2 411.2,270.2 410.8,269.2 410.6,268.1 410.4,267.0 410.2,266.0 410.1,265.0 410.0,263.9 410.0,262.9 410.1,261.9 410.3,260.9" fill="url(#g3)" filter="url(#blt)"/>
<polygon points="309.0,293.0 309.2,292.3 309.4,291.5 309.7,290.8 310.1,290.1 310.5,289.5 311.0,289.0 311.6,288.6 312.3,288.2 313.0,287.9 313.8,287.7 314.7,287.5 315.5,287.3 316.4,287.2 317.3,287.1 318.2,287.1 319.1,287.1 320.1,287.1 321.0,287.2 321.9,287.3 322.9,287.4 323.9,287.6 324.9,287.9 325.7,288.1 326.5,288.5 327.2,288.9 327.8,289.4 328.3,290.0 328.8,290.6 329.2,291.3 329.5,292.0 329.7,292.7 329.9,293.6 330.0,294.4 330.0,295.3 329.9,296.1 329.8,297.0 329.6,297.8 329.4,298.7 329.1,299.6 328.8,300.4 328.4,301.2 328.0,302.0 327.5,302.8 327.0,303.6 326.5,304.4 325.9,305.1 325.2,305.7 324.5,306.2 323.7,306.6 322.8,306.8 321.8,307.0 320.9,307.1 319.9,307.1 319.0,307.0 318.1,306.8 317.2,306.6 316.4,306.3 315.5,305.9 314.7,305.5 314.0,305.0 313.3,304.5 312.7,304.0 312.0,303.4 311.5,302.8 311.0,302.1 310.5,301.5 310.1,300.9 309.7,300.2 309.4,299.6 309.2,298.9 309.0,298.2 308.8,297.5 308.7,296.8 308.7,296.0 308.7,295.2 308.7,294.5 308.8,293.7" fill="url(#g4)" filter="url(#bl)"/>
<polygon points="341.5,291.0 341.9,290.1 342.3,289.1 342.8,288.1 343.3,287.2 343.9,286.3 344.5,285.5 345.2,284.8 345.9,284.1 346.7,283.5 347.4,282.9 348.2,282.5 349.0,282.2 349.8,282.1 350.5,282.1 351.2,282.2 352.0,282.4 352.8,282.7 353.5,283.0 354.2,283.4 355.0,283.8 355.8,284.3 356.5,284.8 357.2,285.4 358.0,286.0 358.8,286.7 359.6,287.4 360.4,288.1 361.2,288.9 361.9,289.7 362.5,290.5 363.0,291.3 363.5,292.1 364.0,292.9 364.3,293.8 364.6,294.6 364.7,295.5 364.7,296.4 364.5,297.4 364.3,298.3 363.9,299.3 363.5,300.2 363.0,301.0 362.4,301.8 361.8,302.5 361.1,303.2 360.3,303.9 359.4,304.5 358.5,305.0 357.5,305.5 356.5,305.8 355.3,306.2 354.2,306.4 353.1,306.6 352.0,306.7 351.0,306.7 349.9,306.6 348.9,306.5 347.8,306.2 346.9,305.9 346.0,305.5 345.2,305.0 344.4,304.4 343.6,303.8 342.9,303.0 342.3,302.3 341.8,301.5 341.3,300.7 341.0,299.8 340.7,298.8 340.4,297.9 340.3,296.9 340.2,296.0 340.2,295.1 340.4,294.3 340.6,293.5 340.8,292.7 341.2,291.9" fill="url(#g5)" filter="url(#blt)"/>
<polygon points="374.5,289.0 374.9,288.0 375.4,287.1 376.0,286.2 376.6,285.4 377.3,284.6 378.0,284.0 378.7,283.5 379.6,283.0 380.4,282.7 381.3,282.5 382.1,282.3 383.0,282.2 383.8,282.2 384.7,282.3 385.5,282.5 386.3,282.8 387.2,283.1 388.0,283.5 388.8,283.9 389.7,284.4 390.6,284.9 391.4,285.5 392.2,286.0 393.0,286.5 393.7,286.9 394.5,287.3 395.2,287.6 395.8,288.0 396.4,288.4 397.0,288.8 397.5,289.3 398.0,289.8 398.4,290.4 398.8,291.0 399.1,291.6 399.2,292.2 399.2,292.8 399.0,293.4 398.8,294.0 398.4,294.7 398.0,295.2 397.6,295.8 397.1,296.3 396.5,296.7 395.8,297.1 395.1,297.5 394.5,298.0 394.0,298.5 393.7,299.1 393.5,299.8 393.3,300.5 393.2,301.2 392.9,301.9 392.5,302.5 391.9,303.1 391.1,303.8 390.3,304.4 389.4,305.0 388.5,305.5 387.5,305.8 386.5,306.0 385.4,306.1 384.2,306.1 383.1,306.0 382.0,305.8 381.0,305.5 380.1,305.1 379.3,304.7 378.5,304.1 377.8,303.5 377.1,302.8 376.5,302.0 375.9,301.2 375.4,300.2 374.9,299.2 374.5,298.2 374.2,297.1 374.0,296.0 373.9,294.9 373.8,293.7 373.9,292.4 374.0,291.2 374.2,290.1" fill="url(#g6)" filter="url(#blt)"/>
<polygon points="408.3,293.0 408.5,292.1 408.9,291.3 409.3,290.6 409.8,289.8 410.4,289.1 411.0,288.5 411.7,287.9 412.5,287.3 413.3,286.7 414.2,286.2 415.1,285.8 416.0,285.5 416.9,285.3 417.9,285.1 418.9,285.1 420.0,285.1 421.0,285.1 422.0,285.2 423.0,285.3 424.1,285.5 425.1,285.7 426.1,286.0 427.1,286.4 428.0,286.8 428.8,287.3 429.6,287.8 430.3,288.4 431.0,289.1 431.5,289.8 432.0,290.5 432.3,291.3 432.6,292.1 432.7,292.9 432.8,293.8 432.8,294.7 432.7,295.5 432.5,296.4 432.3,297.2 432.0,298.1 431.5,298.9 431.1,299.8 430.5,300.5 429.8,301.2 429.1,301.9 428.3,302.5 427.4,303.1 426.5,303.6 425.5,304.0 424.5,304.3 423.4,304.5 422.3,304.6 421.2,304.6 420.1,304.6 419.0,304.5 417.9,304.3 416.9,304.1 415.8,303.8 414.8,303.4 413.9,302.9 413.0,302.5 412.2,302.0 411.4,301.5 410.7,301.0 410.0,300.4 409.5,299.7 409.0,299.0 408.7,298.1 408.4,297.1 408.2,296.1 408.2,295.0 408.2,293.9" fill="url(#g7)" filter="url(#blt)"/>
<g filter="url(#bl)" opacity="0.9"><ellipse cx="324.0" cy="304.0" rx="1.6" ry="2.6" fill="#ffe0c8" transform="rotate(30 324 304)"/><ellipse cx="319.0" cy="300.3" rx="1.5" ry="1.0" fill="#ffc0a0"/></g>
<text x="257.30" y="268.30" font-size="8.6" text-anchor="start" fill="#1a1a1a" textLength="41.6" lengthAdjust="spacingAndGlyphs" stroke="#1a1a1a" stroke-width="0.1">thbd<tspan font-style="italic">loxlox</tspan></text>
<text x="271.70" y="301.30" font-size="8.6" text-anchor="start" fill="#1a1a1a" textLength="27.2" lengthAdjust="spacingAndGlyphs" stroke="#1a1a1a" stroke-width="0.1">thbd-/-</text>
<rect x="0" y="0" width="520" height="1.5" fill="#000"/>
<rect x="0" y="0" width="1.3" height="379" fill="#000"/>
<rect x="518.4" y="0" width="1.6" height="379" fill="#000"/>
<rect x="0" y="377" width="520" height="2" fill="#000"/>
</svg>
</body></html>
